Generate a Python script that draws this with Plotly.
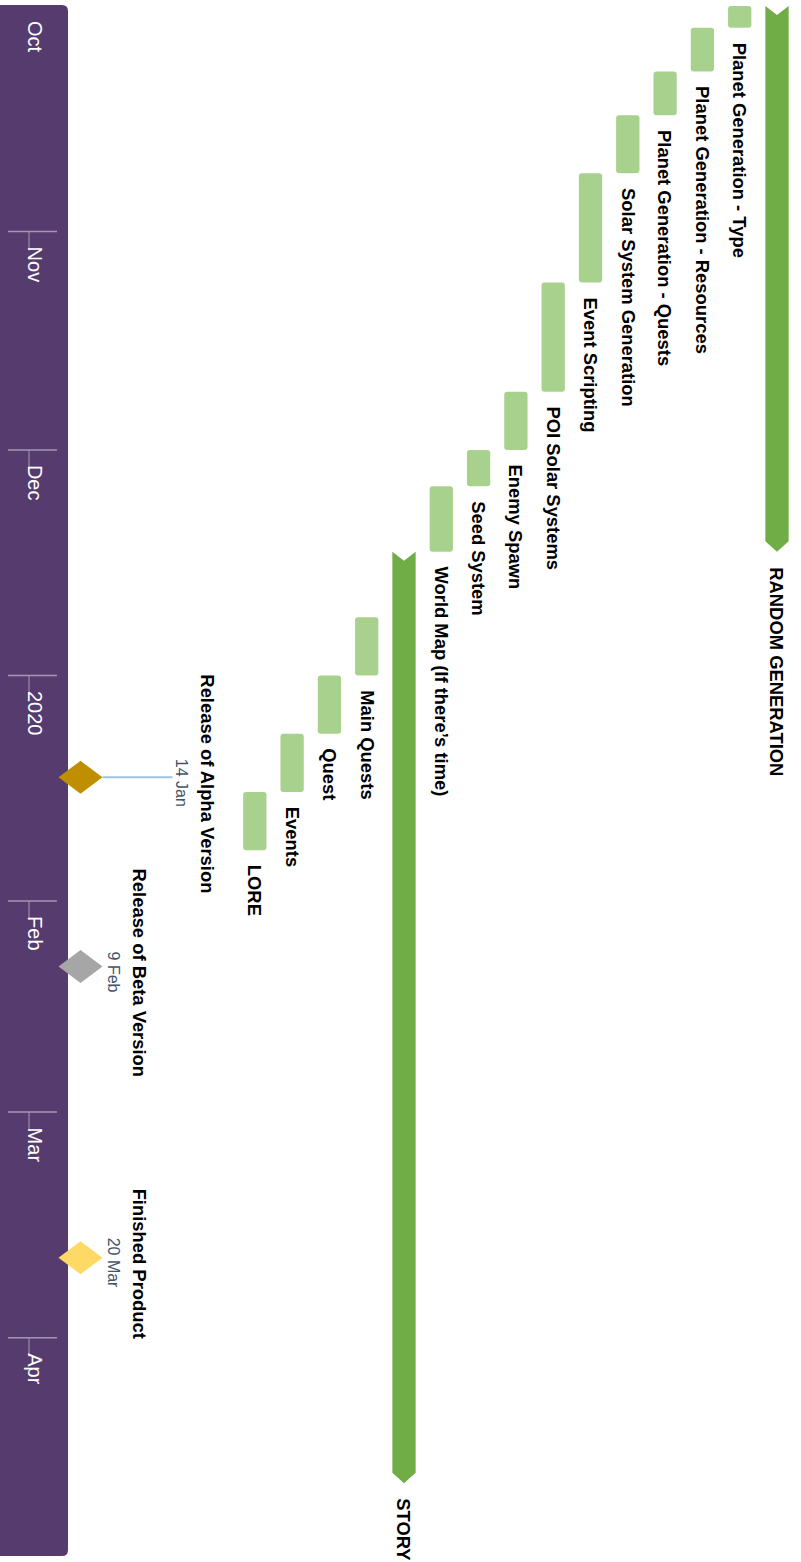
import plotly.graph_objects as go
import pandas as pd

# ---------------- data ----------------
month_labels = ["Oct", "Nov", "Dec", "2020", "Feb", "Mar", "Apr"]
month_starts = ["2019-10-01", "2019-11-01", "2019-12-01", "2020-01-01",
                "2020-02-01", "2020-03-01", "2020-04-01"]

swimlane_names = ["RANDOM GENERATION", "STORY"]
swimlane_start = ["2019-10-01", "2019-12-15"]
swimlane_end = ["2019-12-14", "2020-04-20"]

rg_tasks = ["Planet Generation - Type", "Planet Generation - Resources",
            "Planet Generation - Quests", "Solar System Generation",
            "Event Scripting", "POI Solar Systems", "Enemy Spawn",
            "Seed System", "World Map (If there’s time)"]
rg_start = ["2019-10-01", "2019-10-04", "2019-10-10", "2019-10-16",
            "2019-10-24", "2019-11-08", "2019-11-23", "2019-12-01",
            "2019-12-06"]
rg_end = ["2019-10-03", "2019-10-09", "2019-10-15", "2019-10-23",
          "2019-11-07", "2019-11-22", "2019-11-30", "2019-12-05",
          "2019-12-14"]

story_tasks = ["Main Quests", "Quest", "Events", "LORE"]
story_start = ["2019-12-24", "2020-01-01", "2020-01-09", "2020-01-17"]
story_end = ["2019-12-31", "2020-01-08", "2020-01-16", "2020-01-24"]

milestone_names = ["Release of Alpha Version", "Release of Beta Version",
                   "Finished Product"]
milestone_dates = ["2020-01-14", "2020-02-09", "2020-03-20"]
milestone_date_labels = ["14 Jan", "9 Feb", "20 Mar"]

# ---------------- styles ----------------
PURPLE = "#563c6e"
DARK_GREEN = "#70ad47"
LIGHT_GREEN = "#a9d18e"
milestone_colors = ["#bf8f00", "#a6a6a6", "#ffd966"]
milestone_label_x = [208, 139, 139]
milestone_date_x = [181.5, 113, 113]
FONT = "Liberation Sans, Arial, sans-serif"
LABEL_SIZE = 18.4

Y_START, Y_END = "2019-10-01", "2020-05-01"
PLOT_H = 1550
PX_PER_DAY = PLOT_H / (pd.Timestamp(Y_END) - pd.Timestamp(Y_START)).days
BAR_W = 23.3
LANE0_X = 777
LANE_STEP = 37.3
DIAMOND_X = 80.5


def px_days(px):
    return pd.Timedelta(days=px / PX_PER_DAY)


fig = go.Figure()

groups = [
    (swimlane_names[0], swimlane_start[0], swimlane_end[0], rg_tasks, rg_start, rg_end),
    (swimlane_names[1], swimlane_start[1], swimlane_end[1], story_tasks, story_start, story_end),
]

annotations = []
row = 0
bar_x, bar_base, bar_len = [], [], []
for name, s, e, tnames, tstart, tend in groups:
    lane_x = LANE0_X - LANE_STEP * row
    s_t = pd.Timestamp(s)
    e_t = pd.Timestamp(e) + pd.Timedelta(days=1)
    notch = px_days(9)
    arrow = px_days(10.5)
    xs = [lane_x - BAR_W / 2, lane_x, lane_x + BAR_W / 2, lane_x + BAR_W / 2,
          lane_x, lane_x - BAR_W / 2, lane_x - BAR_W / 2]
    ys = [s_t, s_t + notch, s_t, e_t - arrow, e_t, e_t - arrow, s_t]
    fig.add_trace(go.Scatter(x=xs, y=ys, fill="toself", mode="lines",
                             line=dict(width=0, color=DARK_GREEN),
                             fillcolor=DARK_GREEN, hoverinfo="skip",
                             showlegend=False))
    annotations.append(dict(x=lane_x, y=e_t, xref="x", yref="y",
                            text=name, showarrow=False, textangle=90,
                            xanchor="center", yanchor="top", yshift=-13,
                            font=dict(family=FONT, size=LABEL_SIZE, color="#000000",
                                      weight="bold")))
    row += 1
    for tn, ts, te in zip(tnames, tstart, tend):
        lx = LANE0_X - LANE_STEP * row
        st = pd.Timestamp(ts)
        et = pd.Timestamp(te) + pd.Timedelta(days=1)
        bar_x.append(lx)
        bar_base.append(st)
        bar_len.append((et - st).total_seconds() * 1000)
        annotations.append(dict(x=lx, y=et, xref="x", yref="y",
                                text=tn, showarrow=False, textangle=90,
                                xanchor="center", yanchor="top", yshift=-13,
                                font=dict(family=FONT, size=LABEL_SIZE, color="#000000",
                                          weight="bold")))
        row += 1

fig.add_trace(go.Bar(x=bar_x, y=bar_len, base=bar_base, orientation="v",
                     width=BAR_W, marker=dict(color=LIGHT_GREEN, cornerradius=3,
                                              line=dict(width=0)),
                     hoverinfo="skip", showlegend=False))

# milestones
for name, d, dl, col, lx, dx in zip(milestone_names, milestone_dates,
                                    milestone_date_labels, milestone_colors,
                                    milestone_label_x, milestone_date_x):
    c = pd.Timestamp(d) + pd.Timedelta(days=1)
    h = px_days(16.5)
    if lx > 160:
        fig.add_trace(go.Scatter(x=[DIAMOND_X + 22, dx - 9], y=[c, c], mode="lines",
                                 line=dict(color="#9dc3e6", width=2),
                                 hoverinfo="skip", showlegend=False))
    fig.add_trace(go.Scatter(x=[DIAMOND_X - 22, DIAMOND_X, DIAMOND_X + 22, DIAMOND_X, DIAMOND_X - 22],
                             y=[c, c - h, c, c + h, c], fill="toself", mode="lines",
                             line=dict(width=0, color=col), fillcolor=col,
                             hoverinfo="skip", showlegend=False))
    annotations.append(dict(x=lx, y=c, xref="x", yref="y", text=name,
                            showarrow=False, textangle=90, xanchor="center",
                            yanchor="middle", yshift=-6,
                            font=dict(family=FONT, size=LABEL_SIZE, color="#000000",
                                      weight="bold")))
    annotations.append(dict(x=dx, y=c, xref="x", yref="y", text=dl,
                            showarrow=False, textangle=90, xanchor="center",
                            yanchor="middle", yshift=-5,
                            font=dict(family=FONT, size=16, color="#44546a")))

# month band
shapes = []
r = 6
top_p = (1556 - 5) / PLOT_H
bot_p = 0.0
ry = r / PLOT_H
band_path = (f"M 0,{top_p} L {68 - r},{top_p} Q 68,{top_p} 68,{top_p - ry} "
             f"L 68,{bot_p + ry} Q 68,{bot_p} {68 - r},{bot_p} L 0,{bot_p} Z")
shapes.append(dict(type="path", xref="x", yref="paper", path=band_path,
                   fillcolor=PURPLE, line=dict(width=0), layer="below"))

for i, (ml, ms) in enumerate(zip(month_labels, month_starts)):
    mt = pd.Timestamp(ms)
    if i > 0:
        shapes.append(dict(type="line", xref="x", yref="y", x0=8, x1=57,
                           y0=mt, y1=mt, line=dict(color="#a596b5", width=1.5)))
        shapes.append(dict(type="line", xref="x", yref="y", x0=29, x1=29,
                           y0=mt, y1=mt + px_days(19),
                           line=dict(color="#a596b5", width=1)))
    annotations.append(dict(x=35, y=mt, xref="x", yref="y", text=ml,
                            showarrow=False, textangle=90, xanchor="center",
                            yanchor="top", yshift=-13,
                            font=dict(family=FONT, size=20, color="#ffffff")))

fig.update_layout(
    width=801, height=1562,
    margin=dict(l=0, r=0, t=6, b=6, pad=0),
    paper_bgcolor="white", plot_bgcolor="white",
    shapes=shapes, annotations=annotations,
    xaxis=dict(range=[0, 801], visible=False, fixedrange=True),
    yaxis=dict(type="date", range=[Y_END, Y_START], visible=False),
    barmode="overlay", showlegend=False,
)

fig.write_html("out.html")
